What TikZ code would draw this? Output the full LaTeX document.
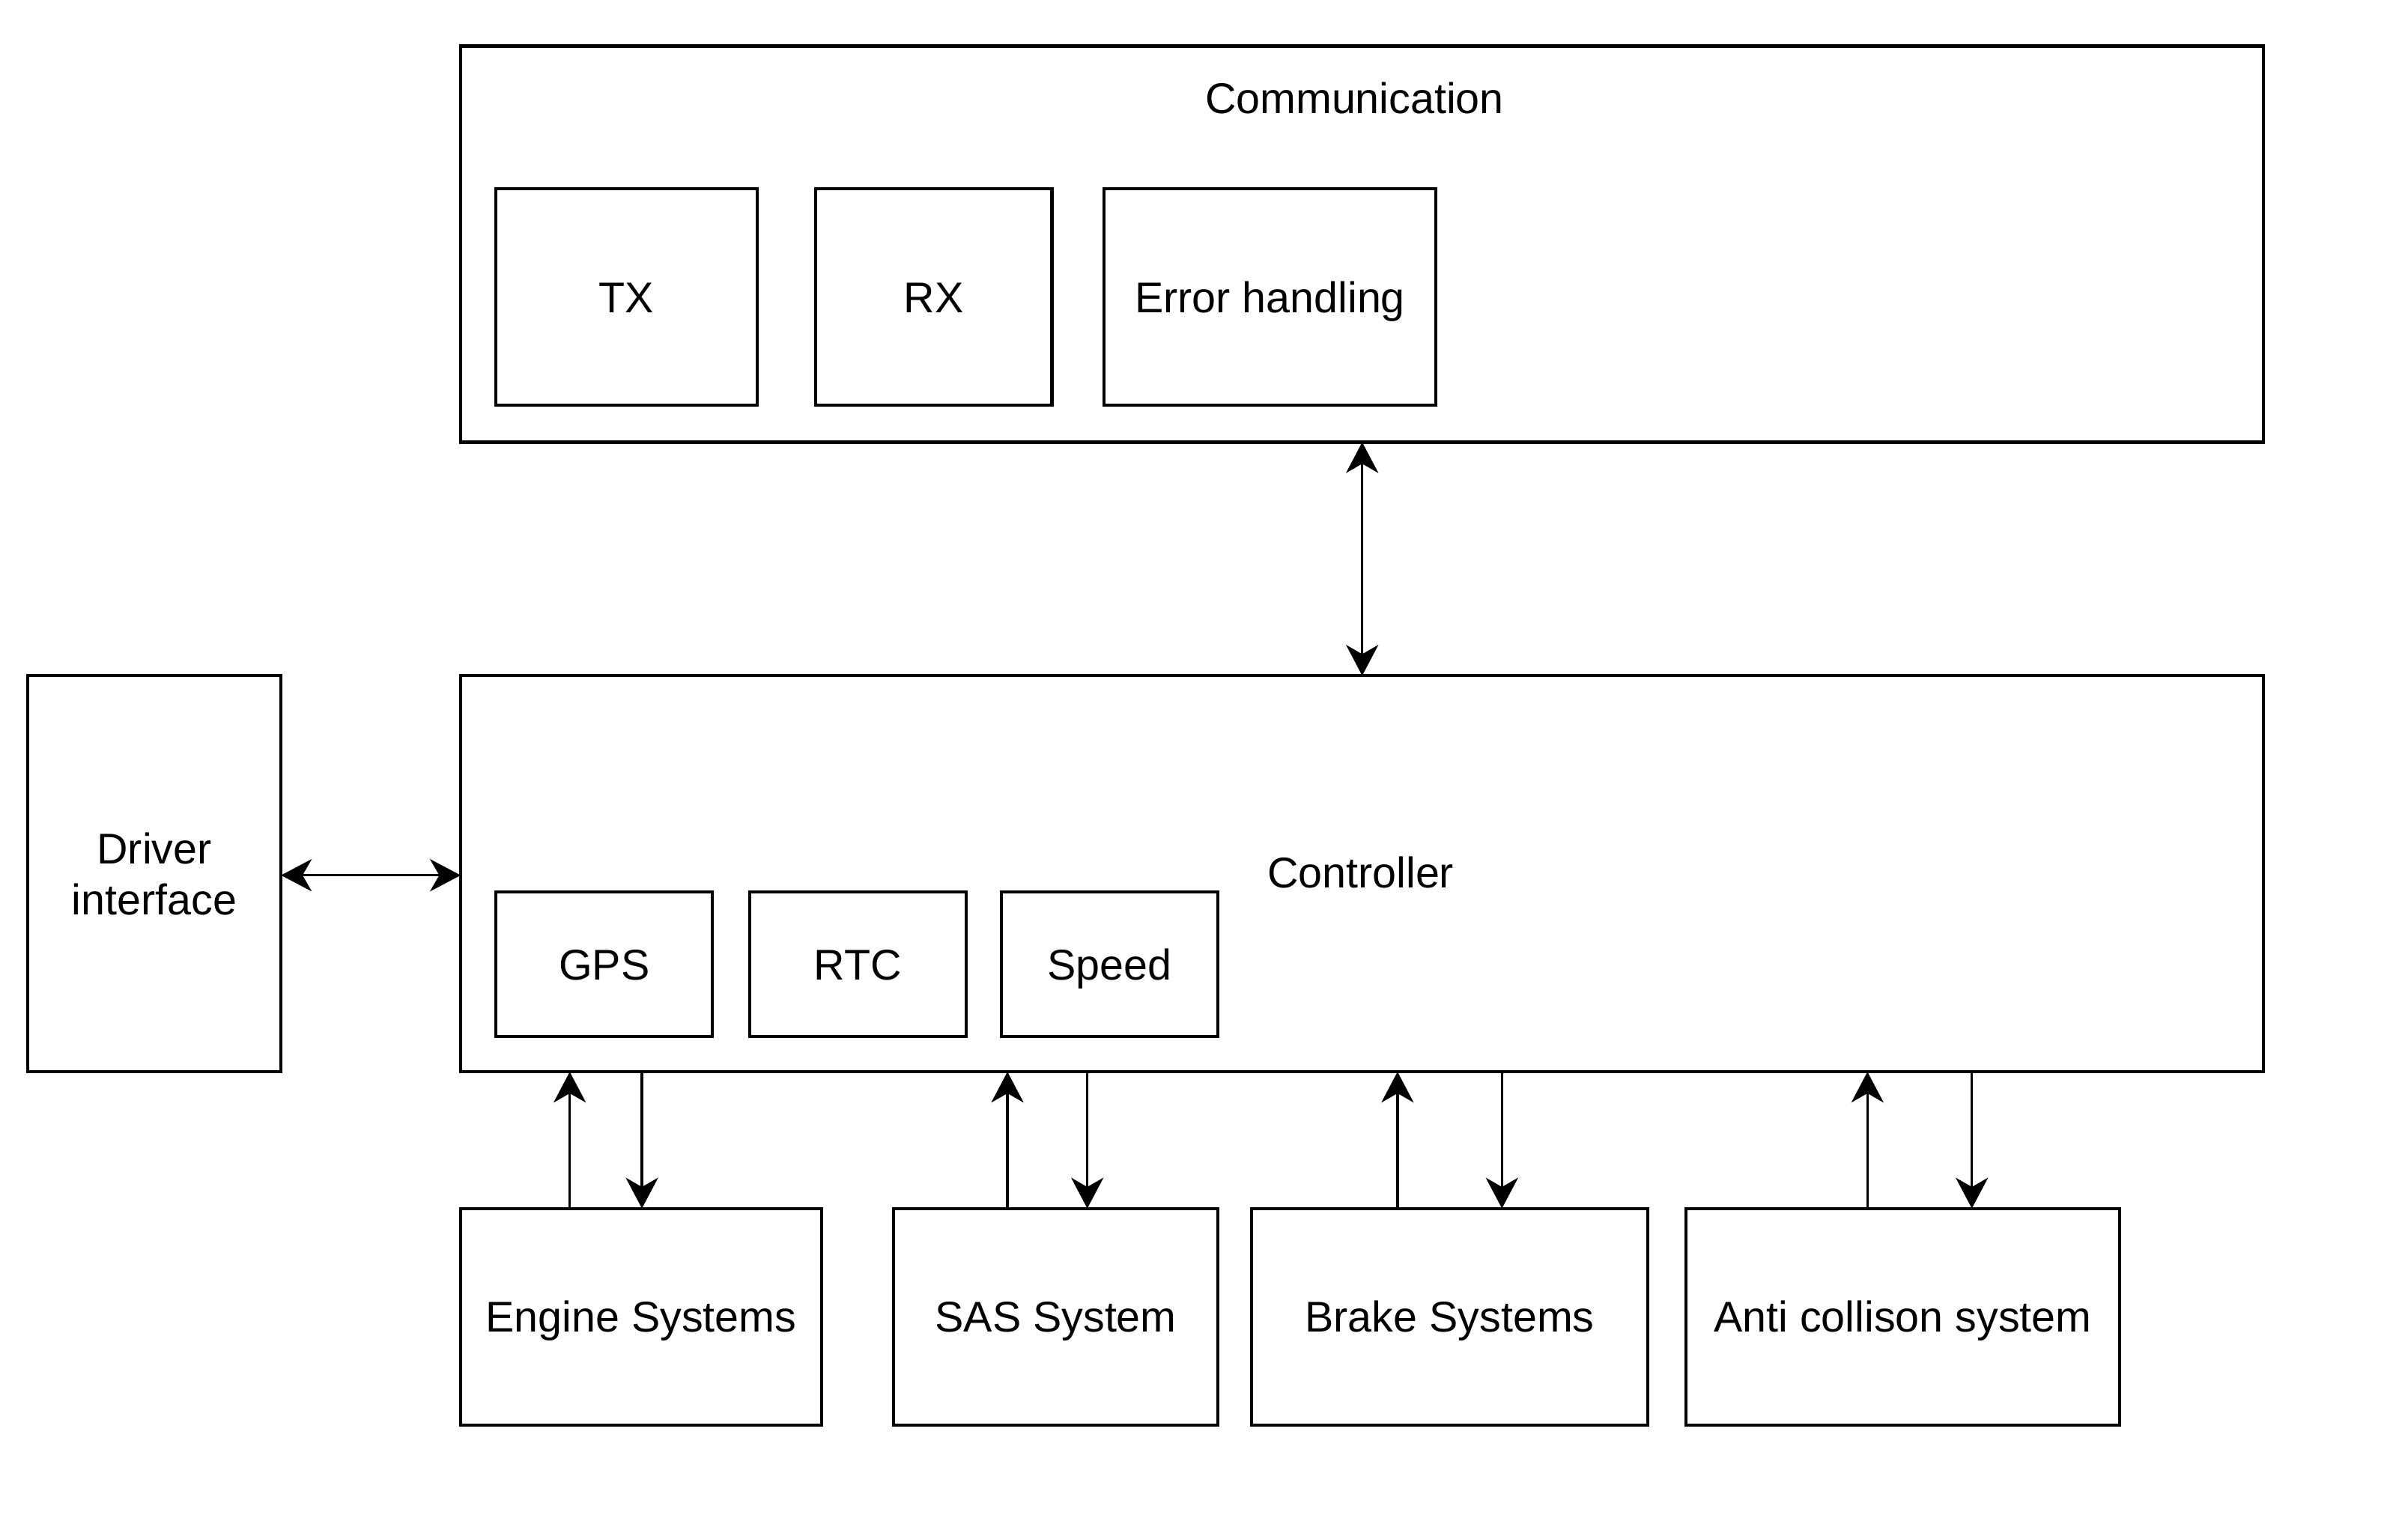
\documentclass[tikz,border=0pt]{standalone}
\usepackage{fontspec}
\setmainfont{Liberation Sans}
\usetikzlibrary{arrows.meta}
\begin{document}
\begin{tikzpicture}[x=1pt,y=-1pt,
  box/.style={draw=black, line width=2pt, inner sep=0pt, outer sep=0pt, align=center, font=\fontsize{28}{33}\selectfont},
  one/.style={box, text height=20pt, text depth=0pt},
  lbl/.style={inner sep=0pt, font=\fontsize{28}{33}\selectfont},
  conn/.style={line width=1.6pt, -{Stealth[length=20pt,width=21pt,inset=6pt]}},
  bconn/.style={line width=1.6pt, {Stealth[length=20pt,width=21pt,inset=6pt]}-{Stealth[length=20pt,width=21pt,inset=6pt]}}]
\useasboundingbox (0,0) rectangle (1568,990.1);
% Communication
\node[box, minimum width=1174pt, minimum height=258pt] (comm) at (887,159) {};
\node[lbl] (commlbl) at (882,64) {Communication};
\node[one, minimum width=170pt, minimum height=141pt] (tx) at (408,193.5) {TX};
\node[one, minimum width=154pt, minimum height=141pt] (rx) at (608,193.5) {RX};
\node[one, minimum width=216pt, minimum height=141pt] (err) at (827,193.5) {Error handling};
% Controller
\node[box, minimum width=1174pt, minimum height=258pt] (ctrl) at (887,569) {};
\node[lbl] (ctrllbl) at (886,568) {Controller};
\node[one, minimum width=141pt, minimum height=94pt] (gps) at (393.5,628) {GPS};
\node[one, minimum width=141pt, minimum height=94pt] (rtc) at (558.5,628) {RTC};
\node[one, minimum width=141pt, minimum height=94pt] (speed) at (722.5,628) {Speed};
% Driver
\node[box, minimum width=165pt, minimum height=258pt] (drv) at (100.5,569) {Driver\\interface};
% Bottom systems
\node[one, minimum width=235pt, minimum height=141pt] (eng) at (417.5,857.5) {Engine Systems};
\node[one, minimum width=211pt, minimum height=141pt] (sas) at (687.5,857.5) {SAS System};
\node[one, minimum width=258pt, minimum height=141pt] (brk) at (944,857.5) {Brake Systems};
\node[one, minimum width=282pt, minimum height=141pt] (anti) at (1239,857.5) {Anti collison system};
% Connectors
\draw[bconn] (comm.south -| 887,0) -- (ctrl.north -| 887,0);
\draw[bconn] (drv.east |- 0,570) -- (ctrl.west |- 0,570);
\draw[conn] (eng.north -| 371,0) -- (ctrl.south -| 371,0);
\draw[conn] (ctrl.south -| 418,0) -- (eng.north -| 418,0);
\draw[conn] (sas.north -| 656,0) -- (ctrl.south -| 656,0);
\draw[conn] (ctrl.south -| 708,0) -- (sas.north -| 708,0);
\draw[conn] (brk.north -| 910,0) -- (ctrl.south -| 910,0);
\draw[conn] (ctrl.south -| 978,0) -- (brk.north -| 978,0);
\draw[conn] (anti.north -| 1216,0) -- (ctrl.south -| 1216,0);
\draw[conn] (ctrl.south -| 1284,0) -- (anti.north -| 1284,0);
\end{tikzpicture}
\end{document}
